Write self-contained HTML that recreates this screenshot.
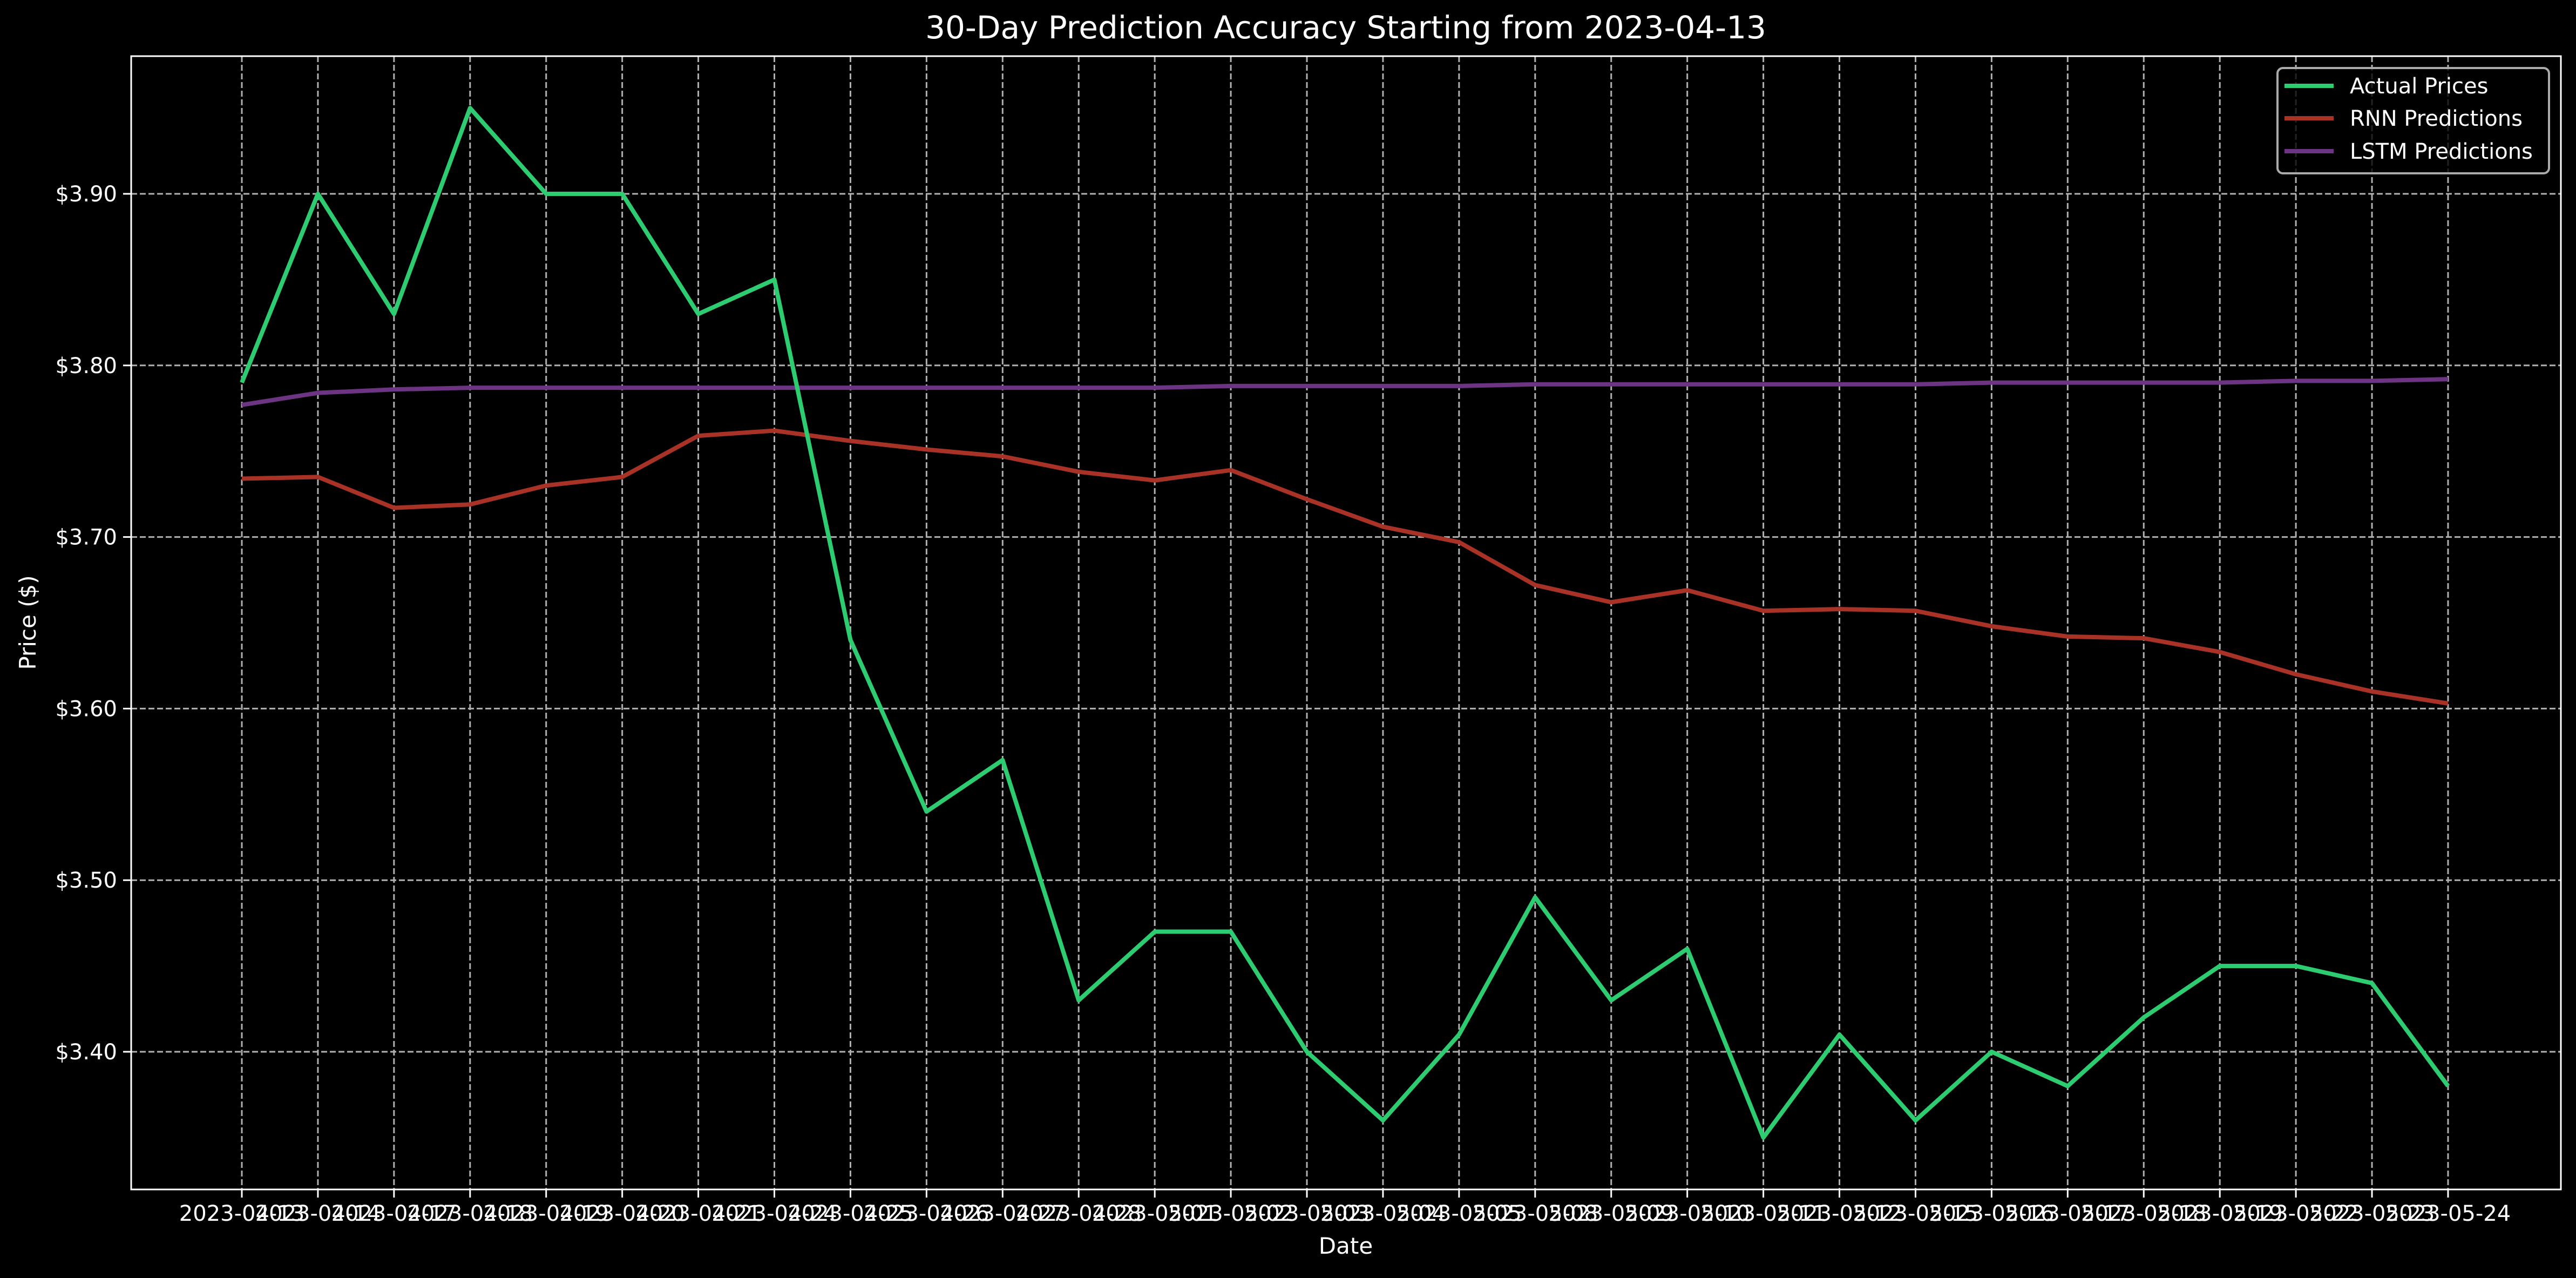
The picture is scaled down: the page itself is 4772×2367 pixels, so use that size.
<!DOCTYPE html>
<html><head><meta charset="utf-8"><style>
html,body{margin:0;padding:0;background:#000;}
svg{display:block;font-family:"DejaVu Sans","Liberation Sans",sans-serif;}
</style></head><body>
<svg id="chart" width="4772" height="2367" viewBox="0 0 4772 2367" xmlns="http://www.w3.org/2000/svg">
<rect x="0" y="0" width="4772" height="2367" fill="#000"/>
<g id="grid"></g>
<g id="series"></g>
<g id="axes"></g>
<text x="2493" y="71" fill="#fff" font-size="58" text-anchor="middle">30-Day Prediction Accuracy Starting from 2023-04-13</text>
<text x="2493" y="2322" fill="#fff" font-size="42" text-anchor="middle">Date</text>
<text transform="translate(66,1153) rotate(-90)" fill="#fff" font-size="42" text-anchor="middle">Price ($)</text>
<g>
<rect x="4219" y="126" width="503" height="195" rx="10" fill="#000" fill-opacity="0.8" stroke="#aaa" stroke-width="4"/>
<line x1="4232" y1="159" x2="4323" y2="159" stroke="#2ecc71" stroke-width="8"/>
<text x="4353" y="173" fill="#fff" font-size="40">Actual Prices</text>
<line x1="4232" y1="219" x2="4323" y2="219" stroke="#a93226" stroke-width="8"/>
<text x="4353" y="233" fill="#fff" font-size="40">RNN Predictions</text>
<line x1="4232" y1="280" x2="4323" y2="280" stroke="#6c3483" stroke-width="8"/>
<text x="4353" y="294" fill="#fff" font-size="40">LSTM Predictions</text>
</g>
</svg>
<script>
const dates = ["2023-04-13","2023-04-14","2023-04-17","2023-04-18","2023-04-19","2023-04-20","2023-04-21","2023-04-24","2023-04-25","2023-04-26","2023-04-27","2023-04-28","2023-05-01","2023-05-02","2023-05-03","2023-05-04","2023-05-05","2023-05-08","2023-05-09","2023-05-10","2023-05-11","2023-05-12","2023-05-15","2023-05-16","2023-05-17","2023-05-18","2023-05-19","2023-05-22","2023-05-23","2023-05-24"];
const actual = [3.79,3.90,3.83,3.95,3.90,3.90,3.83,3.85,3.64,3.54,3.57,3.43,3.47,3.47,3.40,3.36,3.41,3.49,3.43,3.46,3.35,3.41,3.36,3.40,3.38,3.42,3.45,3.45,3.44,3.38];
const rnn = [3.734,3.735,3.717,3.719,3.730,3.735,3.759,3.762,3.756,3.751,3.747,3.738,3.733,3.739,3.722,3.706,3.697,3.672,3.662,3.669,3.657,3.658,3.657,3.648,3.642,3.641,3.633,3.620,3.610,3.603];
const lstm = [3.777,3.784,3.786,3.787,3.787,3.787,3.787,3.787,3.787,3.787,3.787,3.787,3.787,3.788,3.788,3.788,3.788,3.789,3.789,3.789,3.789,3.789,3.789,3.790,3.790,3.790,3.790,3.791,3.791,3.792];
const yTicks = [3.40,3.50,3.60,3.70,3.80,3.90];
const yTickLabels = ["$3.40","$3.50","$3.60","$3.70","$3.80","$3.90"];

const L=243,R=4744,T=104,B=2203;
const X0=448, DX=140.93;
function xs(i){return X0+i*DX;}
function ys(v){return 359+(3.90-v)*3178;}
const NS="http://www.w3.org/2000/svg";
function mk(tag,attrs,parent){const e=document.createElementNS(NS,tag);for(const k in attrs)e.setAttribute(k,attrs[k]);parent.appendChild(e);return e;}
const grid=document.getElementById('grid'),axes=document.getElementById('axes'),series=document.getElementById('series');
dates.forEach((d,i)=>{
  const g=mk('line',{x1:xs(i),y1:T,x2:xs(i),y2:B,stroke:'#b0b0b0',"stroke-width":3,"stroke-dasharray":"11,5"},grid);
  
  
  const t=mk('line',{x1:xs(i),y1:B,x2:xs(i),y2:B+15,stroke:'#fff',"stroke-width":3},axes);
  
  
  const tx=mk('text',{x:xs(i),y:B+58,fill:'#fff',"font-size":40,"text-anchor":"middle"},axes);
  tx.textContent=d;
  
  
});
yTicks.forEach((v,i)=>{
  const g=mk('line',{x1:L,y1:ys(v),x2:R,y2:ys(v),stroke:'#b0b0b0',"stroke-width":3,"stroke-dasharray":"11,5"},grid);
  
  
  const t=mk('line',{x1:L-15,y1:ys(v),x2:L,y2:ys(v),stroke:'#fff',"stroke-width":3},axes);
  
  
  const tx=mk('text',{x:L-26,y:ys(v)+14,fill:'#fff',"font-size":40,"text-anchor":"end"},axes);
  tx.textContent=yTickLabels[i];
  
  
});
const frame=mk('rect',{x:L,y:T,width:R-L,height:B-T,fill:'none',stroke:'#fff',"stroke-width":3},axes);


function line(arr,color,name){
  const p=mk('polyline',{points:arr.map((v,i)=>xs(i)+','+ys(v)).join(' '),fill:'none',stroke:color,"stroke-width":8,"stroke-linejoin":"round"},series);
  
  
}
line(lstm,'#6c3483','lstm-line');
line(rnn,'#a93226','rnn-line');
line(actual,'#2ecc71','actual-line');
</script>
</body></html>
